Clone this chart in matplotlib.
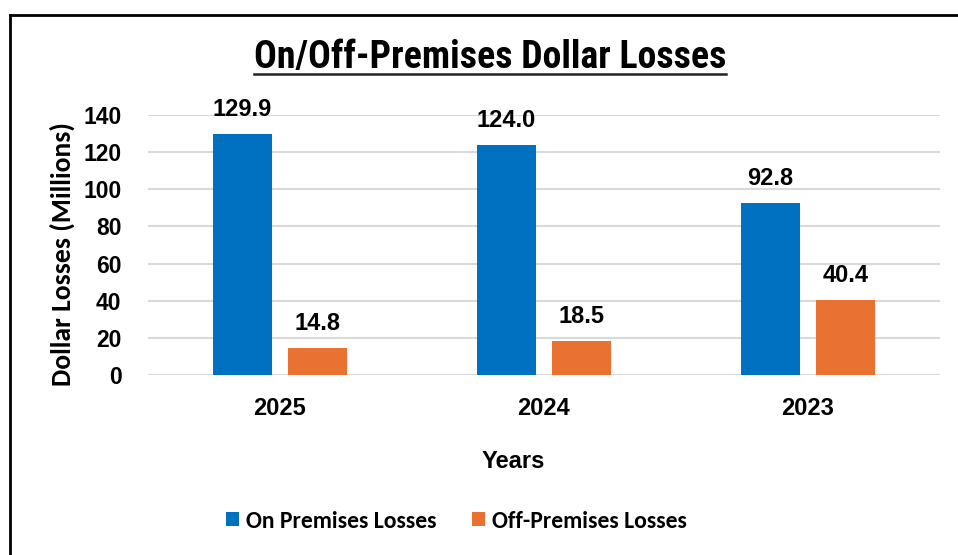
import matplotlib
matplotlib.use("Agg")
import matplotlib.pyplot as plt
import numpy as np

years = ["2025", "2024", "2023"]
on_premises = [129.9, 124.0, 92.8]
off_premises = [14.8, 18.5, 40.4]
yticks = [0, 20, 40, 60, 80, 100, 120, 140]

blue = "#0070C0"
orange = "#E97132"
ARIAL = ["Liberation Sans", "Arimo", "DejaVu Sans"]
CALIBRI = ["Carlito", "Open Sans", "DejaVu Sans"]
NARROW = ["Roboto Condensed", "Archivo Narrow", "Asap Condensed", "DejaVu Sans"]

W, H = 958, 555
fig = plt.figure(figsize=(W/100, H/100), dpi=100)
ax = fig.add_axes([148/W, 1-375/H, (940-148)/W, (375-115)/H])

x = np.arange(len(years))
w = 0.22
off = 0.142
b1 = ax.bar(x - off, on_premises, w, color=blue, label="On Premises Losses", zorder=3)
b2 = ax.bar(x + off, off_premises, w, color=orange, label="Off-Premises Losses", zorder=3)

for bars, vals in ((b1, on_premises), (b2, off_premises)):
    for r, v in zip(bars, vals):
        ax.annotate(f"{v:.1f}", (r.get_x() + r.get_width()/2, v), xytext=(0, 9),
                    textcoords="offset points", ha="center", va="bottom",
                    fontsize=17, fontweight="bold", family=ARIAL)

ax.set_xlim(-0.5, 2.5)
ax.set_ylim(0, 140)
ax.set_yticks(yticks)
ax.set_yticklabels([str(t) for t in yticks], fontsize=16.5, fontweight="bold", family=ARIAL)
ax.set_xticks(x)
ax.set_xticklabels(years, fontsize=17, fontweight="bold", family=ARIAL)
ax.tick_params(axis="both", length=0)
ax.tick_params(axis="y", pad=19)
ax.tick_params(axis="x", pad=16)
ax.grid(axis="y", color="#d9d9d9", linewidth=1.5, zorder=0)
for s in ax.spines.values():
    s.set_visible(False)

ylab = fig.text(62/W, 1-254/H, "Dollar Losses (Millions)", rotation=90, ha="center", va="center",
                fontsize=19, fontweight="bold", family=CALIBRI)
fig.text(513/W, 1-462/H, "Years", ha="center", va="center",
         fontsize=17, fontweight="bold", family=ARIAL)

t = fig.text(490/W, 1-57/H, "On/Off-Premises Dollar Losses", ha="center", va="center",
             fontsize=26, fontweight="bold", family=NARROW)

fig.canvas.draw()
r = fig.canvas.get_renderer()
bb = t.get_window_extent(r)
t.set_fontsize(26 * 472 / bb.width)
bb = ylab.get_window_extent(r)
ylab.set_fontsize(19 * 263 / bb.height)
fig.canvas.draw()
bb = t.get_window_extent(r)
fig.add_artist(plt.Line2D([bb.x0/W, bb.x1/W], [1-74/H, 1-74/H],
                          transform=fig.transFigure, color="#222222", linewidth=1.8))

leg = fig.legend(handles=[b1, b2], loc="center", bbox_to_anchor=(456/W, 1-521/H), ncol=2,
                 frameon=False, prop={"size": 17, "weight": "bold", "family": CALIBRI},
                 handlelength=0.55, handleheight=0.55, handletextpad=0.3, columnspacing=1.5)

fig.add_artist(plt.Line2D([10/W, 10/W], [0, 1-15/H], transform=fig.transFigure, color="black", linewidth=2))
fig.add_artist(plt.Line2D([10/W, 1], [1-15/H, 1-15/H], transform=fig.transFigure, color="black", linewidth=2))

fig.savefig("out.png", dpi=100)
